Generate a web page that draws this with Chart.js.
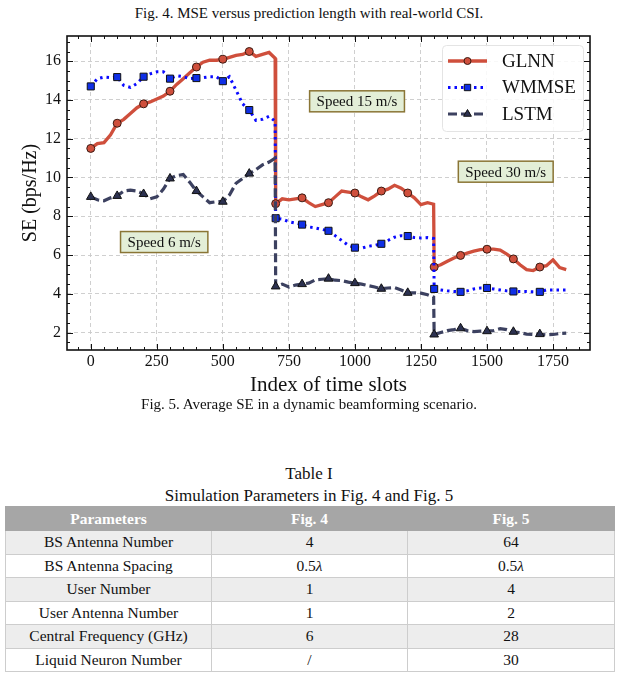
<!DOCTYPE html>
<html>
<head>
<meta charset="utf-8">
<script src="https://cdn.jsdelivr.net/npm/chart.js@4.4.1/dist/chart.umd.min.js"></script>
<style>
    body { margin: 0; background: #fff; font-family: "Liberation Serif", serif; color: #111; }
    #page { position: relative; width: 618px; height: 678px; overflow: hidden; }
    .cap { position: absolute; left: 0; width: 618px; text-align: center; font-size: 15px; line-height: 18px; }
    .tcap { font-size: 17px; line-height: 20px; }
    #wrap { position: absolute; left: 0; top: 28px; width: 618px; height: 370px; }
    table { position: absolute; left: 5px; top: 506px; width: 609px; border-collapse: collapse; font-size: 15.5px; table-layout: fixed; }
    th { background: #a6a6a6; color: #fff; height: 23px; padding: 0; font-weight: bold; border: 1px solid #a6a6a6; }
    td { border: 1px solid #cdcdcd; text-align: center; height: 22.5px; padding: 0; }
    tbody tr:nth-child(odd) td { background: #ededed; }
</style>
</head>
<body>
<div id="page">
    <div class="cap" style="top:4px">Fig. 4. MSE versus prediction length with real-world CSI.</div>
    <div id="wrap"><canvas id="chart" width="618" height="370"></canvas></div>
    <div class="cap" style="top:395px">Fig. 5. Average SE in a dynamic beamforming scenario.</div>
    <div class="cap tcap" style="top:464px">Table I</div>
    <div class="cap tcap" style="top:486px">Simulation Parameters in Fig. 4 and Fig. 5</div>
    <table id="params">
        <colgroup><col style="width:206px"><col style="width:196px"><col style="width:207px"></colgroup>
        <thead><tr><th>Parameters</th><th>Fig. 4</th><th>Fig. 5</th></tr></thead>
        <tbody></tbody>
    </table>
</div>
<script>
// Index of time slots (extra points at 698 / 1298 keep the speed changes vertical)
const slots = [0, 25, 50, 75, 100, 125, 150, 175, 200, 225, 250, 275, 300, 325, 350, 375, 400, 425, 450, 475, 500, 525, 550, 575, 600, 625, 650, 675,
    698,
    700, 725, 750, 775, 800, 825, 850, 875, 900, 925, 950, 975, 1000, 1025, 1050, 1075, 1100, 1125, 1150, 1175, 1200, 1225, 1250, 1275,
    1298,
    1300, 1325, 1350, 1375, 1400, 1425, 1450, 1475, 1500, 1525, 1550, 1575, 1600, 1625, 1650, 1675, 1700, 1725, 1750, 1775, 1800];

const glnn = [11.5, 11.75, 11.8, 12.2, 12.8, 13.0, 13.3, 13.6, 13.8, 13.9, 14.05, 14.2, 14.45, 14.8, 15.1, 15.4, 15.7, 15.95, 16.05, 16.05, 16.1, 16.2, 16.3, 16.35, 16.5, 16.25, 16.35, 16.45,
    16.15,
    8.65, 8.9, 8.85, 8.9, 8.95, 8.7, 8.5, 8.6, 8.7, 9.0, 9.3, 9.25, 9.2, 9.0, 8.85, 9.05, 9.3, 9.4, 9.6, 9.45, 9.2, 8.95, 8.6, 8.7,
    8.62,
    5.38, 5.5, 5.68, 5.85, 5.98, 6.1, 6.2, 6.28, 6.3, 6.3, 6.25, 6.05, 5.8, 5.5, 5.25, 5.2, 5.38, 5.45, 5.75, 5.35, 5.25];

const wmmse = [14.7, 15.1, 15.18, 15.15, 15.18, 14.75, 14.65, 14.85, 15.2, 15.35, 15.45, 15.45, 15.1, 15.25, 15.2, 15.1, 15.13, 15.15, 15.2, 15.2, 14.97, 15.2, 14.5, 13.8, 13.48, 12.95, 13.0, 13.15,
    12.9,
    7.9, 7.85, 7.72, 7.65, 7.57, 7.45, 7.4, 7.32, 7.25, 7.0, 6.75, 6.5, 6.38, 6.35, 6.45, 6.5, 6.58, 6.75, 6.92, 7.0, 6.98, 6.9, 6.88, 6.9,
    6.85,
    4.25, 4.2, 4.15, 4.12, 4.1, 4.15, 4.25, 4.3, 4.3, 4.25, 4.2, 4.15, 4.12, 4.12, 4.12, 4.1, 4.1, 4.2, 4.2, 4.2, 4.2];

const lstm = [9.0, 8.85, 8.8, 8.95, 9.05, 9.3, 9.35, 9.3, 9.15, 8.9, 9.0, 9.4, 9.95, 10.1, 10.15, 9.75, 9.3, 9.0, 8.7, 8.75, 8.75, 9.1, 9.7, 9.95, 10.2, 10.4, 10.65, 10.8,
    11.0,
    4.38, 4.5, 4.35, 4.45, 4.5, 4.55, 4.72, 4.75, 4.78, 4.7, 4.68, 4.6, 4.55, 4.5, 4.42, 4.35, 4.26, 4.3, 4.32, 4.2, 4.05, 4.05, 4.03, 3.95,
    3.83,
    1.9, 2.0, 2.1, 2.15, 2.22, 2.1, 2.05, 2.07, 2.07, 2.1, 2.2, 2.15, 2.04, 2.0, 1.92, 1.9, 1.92, 1.88, 1.9, 1.95, 1.97];

const seriesNames = ['GLNN', 'WMMSE', 'LSTM'];
const xTicks = [0, 250, 500, 750, 1000, 1250, 1500, 1750];
const yTicks = [2, 4, 6, 8, 10, 12, 14, 16];

const speedNotes = ['Speed 6 m/s', 'Speed 15 m/s', 'Speed 30 m/s'];
const noteX = [278, 1008, 1571];
const noteY = [6.67, 13.93, 10.3];

const tableRows = [
    ['BS Antenna Number', '4', '64'],
    ['BS Antenna Spacing', '0.5<i>\u03BB</i>', '0.5<i>\u03BB</i>'],
    ['User Number', '1', '4'],
    ['User Antenna Number', '1', '2'],
    ['Central Frequency (GHz)', '6', '28'],
    ['Liquid Neuron Number', '/', '30']
];

const FONT = '"Liberation Serif"';

// table
const tbody = document.querySelector('#params tbody');
tableRows.forEach(row => {
    const tr = document.createElement('tr');
    row.forEach(cell => {
        const td = document.createElement('td');
        td.innerHTML = cell;
        tr.appendChild(td);
    });
    tbody.appendChild(tr);
});

// markers every 100 slots up to 1700
const markerRadius = r => c => {
    const x = slots[c.dataIndex];
    return (x % 100 === 0 && x <= 1700) ? r : 0;
};

const toPoints = arr => slots.map((s, i) => ({x: s, y: arr[i]}));

const styles = [
    {color: '#cf4f3c', dash: [], width: 3.3, point: 'circle', r: 4, fill: '#cf4f3c', edge: '#3a1a12'},
    {color: '#0a0aff', dash: [2.5, 4], width: 3, point: 'rect', r: 5, fill: '#0f2fe6', edge: '#111'},
    {color: '#3c4160', dash: [9, 4], width: 3.2, point: 'triangle', r: 5, fill: '#2c3150', edge: '#111'}
];

const datasets = [glnn, wmmse, lstm].map((arr, i) => ({
    label: seriesNames[i],
    data: toPoints(arr),
    borderColor: styles[i].color,
    borderWidth: styles[i].width,
    borderDash: styles[i].dash,
    borderCapStyle: 'butt',
    tension: 0,
    pointStyle: styles[i].point,
    pointRadius: markerRadius(styles[i].r),
    pointBackgroundColor: styles[i].fill,
    pointBorderColor: styles[i].edge,
    pointBorderWidth: 1,
    order: 3 - i
}));

// inward ticks, frame, legend and speed notes
const decorations = {
    id: 'decorations',
    afterDatasetsDraw(chart) {
        const ctx = chart.ctx;
        const ca = chart.chartArea;
        const xs = chart.scales.x, ys = chart.scales.y;
        ctx.save();
        ctx.strokeStyle = '#111';
        ctx.lineWidth = 1;
        for (let v = -50; v <= 1850; v += 50) {
            const px = Math.round(xs.getPixelForValue(v)) + 0.5;
            const len = v % 250 === 0 ? 6 : 3;
            ctx.beginPath();
            ctx.moveTo(px, ca.bottom); ctx.lineTo(px, ca.bottom - len);
            ctx.moveTo(px, ca.top); ctx.lineTo(px, ca.top + len);
            ctx.stroke();
        }
        for (let v = 1.5; v <= 17; v += 0.5) {
            const py = Math.round(ys.getPixelForValue(v)) + 0.5;
            const len = v % 2 === 0 ? 6 : 3;
            ctx.beginPath();
            ctx.moveTo(ca.left, py); ctx.lineTo(ca.left + len, py);
            ctx.moveTo(ca.right, py); ctx.lineTo(ca.right - len, py);
            ctx.stroke();
        }
        ctx.lineWidth = 1.6;
        ctx.strokeRect(ca.left, ca.top, ca.right - ca.left, ca.bottom - ca.top);
        ctx.restore();
    },
    afterDraw(chart) {
        const ctx = chart.ctx;
        const ca = chart.chartArea;
        const xs = chart.scales.x, ys = chart.scales.y;
        ctx.save();

        // legend
        const bx = ca.right - 148, by = ca.top + 9, bw = 141, bh = 86;
        ctx.fillStyle = 'rgba(255,255,255,0.85)';
        ctx.strokeStyle = '#e4e4e4';
        ctx.lineWidth = 1;
        ctx.beginPath();
        ctx.roundRect(bx + 0.5, by + 0.5, bw, bh, 4);
        ctx.fill();
        ctx.stroke();
        ctx.font = '19px ' + FONT;
        ctx.textBaseline = 'middle';
        chart.data.datasets.forEach((ds, i) => {
            const y = by + 16 + i * 26.5;
            ctx.strokeStyle = ds.borderColor;
            ctx.lineWidth = ds.borderWidth;
            ctx.setLineDash(ds.borderDash);
            ctx.lineCap = 'butt';
            ctx.beginPath();
            ctx.moveTo(bx + 6, y); ctx.lineTo(bx + 45, y);
            ctx.stroke();
            ctx.setLineDash([]);
            ctx.fillStyle = ds.pointBackgroundColor;
            ctx.strokeStyle = ds.pointBorderColor;
            ctx.lineWidth = 1;
            Chart.helpers.drawPoint(ctx, {pointStyle: ds.pointStyle, radius: styles[i].r - 0.5, rotation: 0, borderWidth: 1}, bx + 25.5, y);
            ctx.fillStyle = '#111';
            ctx.textAlign = 'left';
            ctx.fillText(ds.label, bx + 60, y + 1);
        });

        // speed notes
        ctx.font = '15px ' + FONT;
        ctx.textAlign = 'center';
        speedNotes.forEach((t, i) => {
            const cx = xs.getPixelForValue(noteX[i]);
            const cy = ys.getPixelForValue(noteY[i]);
            const w = ctx.measureText(t).width + 14;
            const h = 21;
            ctx.fillStyle = '#e3eed7';
            ctx.strokeStyle = '#8a7535';
            ctx.lineWidth = 1.5;
            ctx.fillRect(cx - w / 2, cy - h / 2, w, h);
            ctx.strokeRect(cx - w / 2, cy - h / 2, w, h);
            ctx.fillStyle = '#111';
            ctx.fillText(t, cx, cy + 1);
        });
        ctx.restore();
    }
};

function drawChart() {
    new Chart(document.getElementById('chart'), {
        type: 'line',
        data: {datasets: datasets},
        options: {
            responsive: false,
            animation: false,
            devicePixelRatio: 1,
            layout: {padding: {left: 0, right: 28, top: 8, bottom: 0}},
            plugins: {legend: {display: false}, tooltip: {enabled: false}},
            scales: {
                x: {
                    type: 'linear',
                    min: -90,
                    max: 1890,
                    afterBuildTicks: s => { s.ticks = xTicks.map(v => ({value: v})); },
                    afterFit: s => { s.height = 48; s.paddingLeft = 0; s.paddingRight = 0; },
                    ticks: {font: {family: FONT, size: 16}, color: '#111', padding: 2, maxRotation: 0, autoSkip: false, callback: v => String(v)},
                    grid: {color: '#c9c9c9', lineWidth: 0.9, drawTicks: false},
                    border: {display: false, dash: [4, 3]},
                    title: {display: true, text: 'Index of time slots', color: '#111', font: {family: FONT, size: 21}, padding: {top: 4, bottom: 0}}
                },
                y: {
                    min: 1.1,
                    max: 17.3,
                    afterBuildTicks: s => { s.ticks = yTicks.map(v => ({value: v})); },
                    afterFit: s => { s.width = 67; s.paddingTop = 0; s.paddingBottom = 0; },
                    ticks: {font: {family: FONT, size: 16}, color: '#111', padding: 6, callback: v => String(v)},
                    grid: {color: '#c9c9c9', lineWidth: 0.9, drawTicks: false},
                    border: {display: false, dash: [4, 3]},
                    title: {display: true, text: 'SE (bps/Hz)', color: '#111', font: {family: FONT, size: 20}, padding: {top: 19, bottom: 0}}
                }
            }
        },
        plugins: [decorations]
    });
}

// make sure the serif face is ready before the canvas uses it
Promise.all([
    document.fonts.load('16px "Liberation Serif"'),
    document.fonts.load('20px "Liberation Serif"')
]).then(drawChart, drawChart);
</script>
</body>
</html>
